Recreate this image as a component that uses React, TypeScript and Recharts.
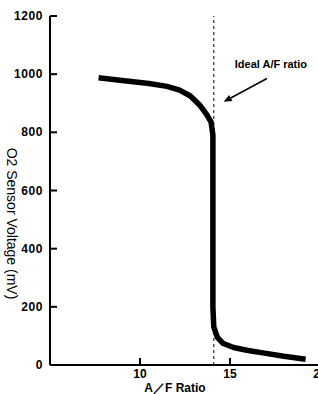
import { Line, LineChart, ReferenceLine, XAxis, YAxis } from "recharts";

// A/F ratio vs O2 sensor output
const ratio = [7.7, 9, 10.5, 11.5, 12.2, 12.8, 13.3, 13.7, 13.95, 14.05, 14.05, 14.1, 14.3, 14.6, 15.2, 16, 17, 18, 19.2];
const voltage = [988, 978, 968, 958, 945, 925, 895, 862, 835, 790, 200, 130, 95, 75, 60, 50, 40, 30, 20];

const xTicks = [10, 15, 20];
const yTicks = [0, 200, 400, 600, 800, 1000, 1200];
const idealRatio = 14.1;
const arrowFrom = { x: 17.05, y: 985 };
const arrowTo = { x: 14.65, y: 905 };

const points = ratio.map((r, i) => ({ ratio: r, voltage: voltage[i] }));

const FONT = "'Liberation Sans', Arial, sans-serif";

function XTick({ x, y, payload }: any) {
  return (
    <g>
      <line x1={x} y1={y} x2={x} y2={y - 7} stroke="#000" strokeWidth={2} />
      <text x={x} y={y + 13} textAnchor="middle" fontFamily={FONT} fontWeight="bold" fontSize={12} fill="#000">
        {payload.value}
      </text>
    </g>
  );
}

function YTick({ x, y, payload }: any) {
  return (
    <g>
      <line x1={x} y1={y} x2={x + 7} y2={y} stroke="#000" strokeWidth={2} />
      <text x={x - 7} y={y + 4} textAnchor="end" fontFamily={FONT} fontWeight="bold" fontSize={12} fill="#000" letterSpacing={0.6}>
        {payload.value}
      </text>
    </g>
  );
}

function Arrow({ x1, y1, x2, y2 }: any) {
  const ang = Math.atan2(y2 - y1, x2 - x1);
  const len = 8;
  const w = 3.5;
  const bx = x2 - len * Math.cos(ang);
  const by = y2 - len * Math.sin(ang);
  const px = -Math.sin(ang) * w;
  const py = Math.cos(ang) * w;
  return (
    <g>
      <line x1={x1} y1={y1} x2={bx} y2={by} stroke="#000" strokeWidth={1.5} />
      <polygon points={`${x2},${y2} ${bx + px},${by + py} ${bx - px},${by - py}`} fill="#000" />
      <text x={x1 + 4} y={y1 - 11} textAnchor="middle" fontFamily={FONT} fontWeight="bold" fontSize={11} fill="#000">
        Ideal A/F ratio
      </text>
    </g>
  );
}

function YTitle({ viewBox }: any) {
  const cx = 12;
  const cy = viewBox.y + viewBox.height / 2 + 33;
  return (
    <text x={cx} y={cy} transform={`rotate(90 ${cx} ${cy})`} textAnchor="middle" dominantBaseline="central" fontFamily={FONT} fontSize={14} fill="#000">
      O2 Sensor Voltage (mV)
    </text>
  );
}

function XTitle({ viewBox }: any) {
  const cx = viewBox.x + viewBox.width / 2 - 10;
  return (
    <text x={cx} y={viewBox.y + 27} textAnchor="middle" fontFamily={FONT} fontWeight="bold" fontSize={12} fill="#000">
      A／F  Ratio
    </text>
  );
}

export default function App() {
  return (
    <div style={{ position: "fixed", left: 0, top: 0, width: 318, height: 394, overflow: "hidden", background: "#fff" }}>
      <LineChart width={330} height={394} data={points} margin={{ top: 16, right: 10, left: 0, bottom: 0 }}>
        <XAxis
          type="number"
          dataKey="ratio"
          domain={[5, 20]}
          ticks={xTicks}
          tick={<XTick />}
          tickSize={0}
          tickMargin={0}
          tickLine={false}
          axisLine={{ stroke: "#000", strokeWidth: 2 }}
          height={29}
          label={<XTitle />}
        />
        <YAxis
          type="number"
          domain={[0, 1200]}
          ticks={yTicks}
          tick={<YTick />}
          tickSize={0}
          tickMargin={0}
          tickLine={false}
          axisLine={{ stroke: "#000", strokeWidth: 2 }}
          width={50}
          label={<YTitle />}
        />
        <ReferenceLine x={idealRatio} stroke="#000" strokeWidth={1} strokeDasharray="3 3" />
        <ReferenceLine
          segment={[arrowFrom, arrowTo]}
          shape={(p: any) => <Arrow {...p} />}
          ifOverflow="visible"
        />
        <Line
          dataKey="voltage"
          type="linear"
          stroke="#000"
          strokeWidth={5.5}
          strokeLinecap="butt"
          strokeLinejoin="round"
          dot={false}
          isAnimationActive={false}
        />
      </LineChart>
    </div>
  );
}
